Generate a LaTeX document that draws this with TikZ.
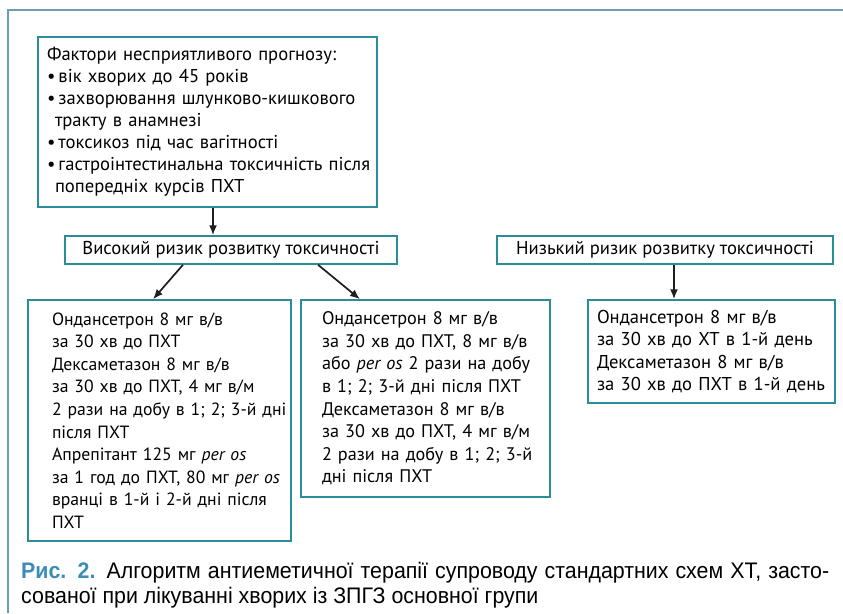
\documentclass[tikz,border=0pt]{standalone}
\usepackage{fontspec}
\usepackage{tikz}
\usetikzlibrary{shapes, arrows, arrows.meta}
\newfontfamily\boxfont{PT Sans}
\newfontfamily\capfont[FakeStretch=0.95]{Liberation Sans}
\definecolor{boxteal}{HTML}{2A8D9C}
\definecolor{frameblue}{HTML}{6E9DB8}
\definecolor{capblue}{HTML}{3A8DB6}
\definecolor{arrowgray}{HTML}{1E1E1E}
\tikzstyle{factor} = [rectangle, draw=boxteal, line width=1.5pt, inner sep=0pt, align=left, font=\boxfont\fontsize{18.6}{22}\selectfont]
\tikzstyle{risk} = [rectangle, draw=boxteal, line width=1.5pt, inner sep=0pt, minimum height=28pt, font=\boxfont\fontsize{18.6}{20}\selectfont]
\tikzstyle{scheme} = [rectangle, draw=boxteal, line width=1.5pt, inner sep=0pt, align=left, font=\boxfont\fontsize{18.6}{22.6}\selectfont]
\tikzstyle{indent} = [execute at begin node={\setlength{\leftskip}{#1}\setlength{\rightskip}{-40pt plus 1fil}}]
\tikzstyle{line} = [draw=arrowgray, line width=1.7pt, -{Latex[length=10pt, width=8pt]}]

\begin{document}
\begin{tikzpicture}[x=1pt, y=1pt, node distance=128pt]
  \useasboundingbox (0,0) rectangle (843,-613);
  %% frame
  \draw [frameblue, line width=1.6pt] (8,-613) -- (8,-10) -- (843,-10);
  %% nodes
  % unfavourable factors
  \node [factor, text width=339pt, minimum height=170pt, indent=9pt] (factors) at (207.5,-122) {Фактори несприятливого прогнозу:\\
    \textbullet\,вік хворих до 45 років\\
    \textbullet\,захворювання шлунково-кишкового\\
    \hspace*{8pt}тракту в анамнезі\\
    \textbullet\,токсикоз під час вагітності\\
    \textbullet\,гастроінтестинальна токсичність після\\
    \hspace*{8pt}попередніх курсів ПХТ};
  % risk levels
  \node [risk, minimum width=332pt, below of=factors, xshift=23.5pt] (high) {Високий ризик розвитку токсичності};
  \node [risk, minimum width=336pt, right of=high, node distance=434pt] (low) {Низький ризик розвитку токсичності};
  % antiemetic schemes
  \node [scheme, font=\boxfont\fontsize{17.7}{22.6}\selectfont, text width=263pt, minimum height=241pt, indent=24pt, below of=high, node distance=170.5pt, xshift=-71.5pt] (scheme01) {Ондансетрон 8 мг в/в\\
    за 30 хв до ПХТ\\
    Дексаметазон 8 мг в/в\\
    за 30 хв до ПХТ, 4 мг в/м\\
    2 рази на добу в 1; 2; 3-й дні\\
    після ПХТ\\
    Апрепітант 125 мг \textit{per os}\\
    за 1 год до ПХТ, 80 мг \textit{per os}\\
    вранці в 1-й і 2-й дні після\\
    ПХТ};
  \node [scheme, font=\boxfont\fontsize{18.2}{22.6}\selectfont, text width=249pt, minimum height=197pt, indent=21pt, below of=high, node distance=148.5pt, xshift=194.5pt] (scheme02) {Ондансетрон 8 мг в/в\\
    за 30 хв до ПХТ, 8 мг в/в\\
    або \textit{per os} 2 рази на добу\\
    в 1; 2; 3-й дні після ПХТ\\
    Дексаметазон 8 мг в/в\\
    за 30 хв до ПХТ, 4 мг в/м\\
    2 рази на добу в 1; 2; 3-й\\
    дні після ПХТ};
  \node [scheme, text width=247pt, minimum height=103pt, indent=9pt, below of=low, node distance=101.5pt, xshift=46.5pt] (scheme03) {Ондансетрон 8 мг в/в\\
    за 30 хв до ХТ в 1-й день\\
    Дексаметазон 8 мг в/в\\
    за 30 хв до ПХТ в 1-й день};
  % caption
  \node [anchor=north west, inner sep=0pt, text width=808pt, align=justify, font=\capfont\fontsize{22.5}{25}\selectfont] (caption) at (21,-562) {\textcolor{capblue}{\textbf{Рис. 2.}} Алгоритм антиеметичної терапії супроводу стандартних схем ХТ, засто-\linebreak сованої при лікуванні хворих із ЗПГЗ основної групи};
  %% edges
  \path [line] ([xshift=5.5pt]factors.south) -- ([xshift=5.5pt]factors.south |- high.north);
  \path [line] ([xshift=-48pt]high.south) -- ([xshift=-6.5pt]scheme01.north);
  \path [line] ([xshift=87pt]high.south) -- ([xshift=-65.5pt]scheme02.north);
  \path [line] ([xshift=9pt]low.south) -- ([xshift=9pt]low.south |- scheme03.north);
\end{tikzpicture}
\end{document}
